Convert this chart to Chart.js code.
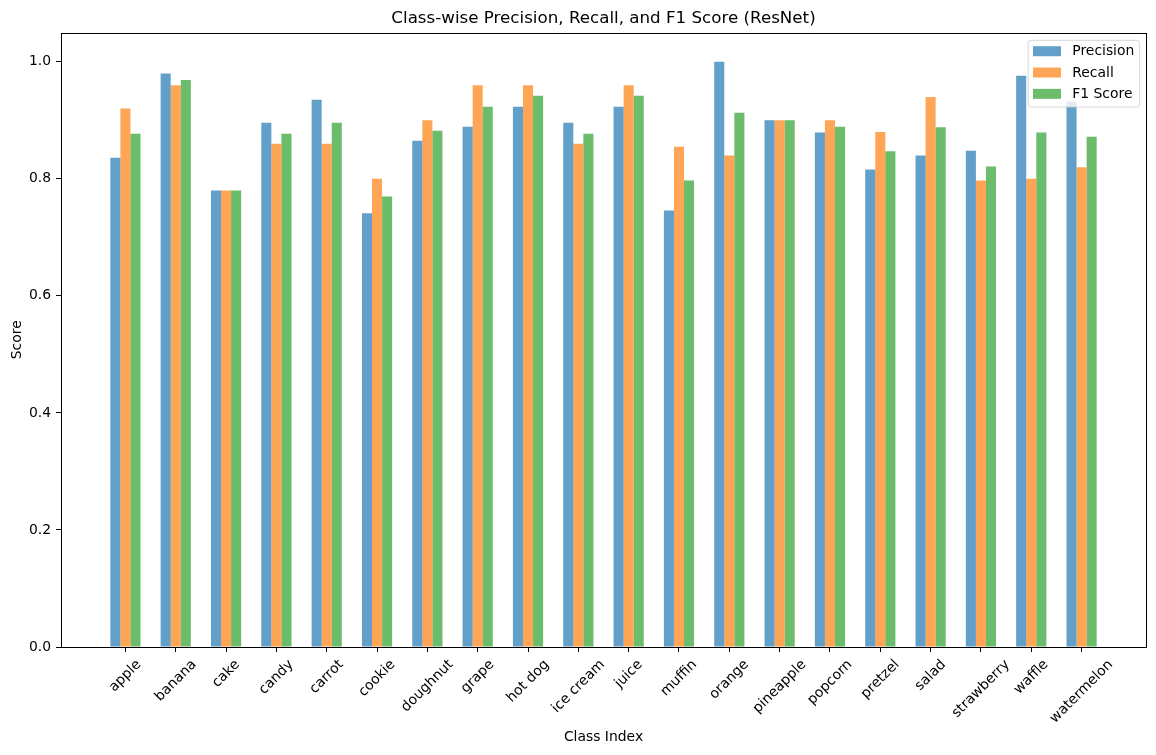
<!DOCTYPE html>
<html><head><meta charset="utf-8">
<script src="https://cdn.jsdelivr.net/npm/chart.js@4.4.1/dist/chart.umd.min.js"></script>
<style>html,body{margin:0;padding:0;background:#fff;}#wrap{width:1156px;height:755px;position:relative;}</style>
</head><body><div id="wrap"><canvas id="c" width="1156" height="755"></canvas></div>
<script>
const categories = ['apple','banana','cake','candy','carrot','cookie','doughnut','grape','hot dog','ice cream','juice','muffin','orange','pineapple','popcorn','pretzel','salad','strawberry','waffle','watermelon'];
const precision = [0.836,0.980,0.780,0.896,0.935,0.741,0.865,0.889,0.923,0.896,0.923,0.746,1.000,0.900,0.879,0.816,0.840,0.848,0.976,0.932];
const recall    = [0.920,0.960,0.780,0.860,0.860,0.800,0.900,0.960,0.960,0.860,0.960,0.855,0.840,0.900,0.900,0.880,0.940,0.797,0.800,0.820];
const f1score   = [0.877,0.969,0.780,0.877,0.896,0.770,0.882,0.923,0.942,0.877,0.942,0.797,0.913,0.900,0.889,0.847,0.888,0.821,0.879,0.872];
const seriesNames = ['Precision','Recall','F1 Score'];
const yTicks = [0,0.2,0.4,0.6,0.8,1.0];

const seriesValues = [precision, recall, f1score];
const colors = ['rgba(31,119,180,0.7)','rgba(255,127,14,0.7)','rgba(44,160,44,0.7)'];
const FONT = 'DejaVu Sans';
Chart.defaults.font.family = FONT;
Chart.defaults.color = '#000';

const datasets = seriesValues.map((vals,k)=>({
  label: seriesNames[k],
  data: vals.map((v,i)=>({x:i,y:v})),
  backgroundColor: colors[k],
  borderWidth: 0,
  categoryPercentage: 0.6,
  barPercentage: 1.0
}));

const decor = {
  id:'decor',
  afterDatasetsDraw(chart){
    const {ctx, chartArea:a} = chart;
    ctx.save();
    ctx.strokeStyle = '#000'; ctx.lineWidth = 1;
    const L = Math.round(a.left)+0.5, T = Math.round(a.top)+0.5, R = Math.round(a.right)+0.5, B = Math.round(a.bottom)+0.5;
    ctx.strokeRect(L, T, R-L, B-T);
    ctx.restore();
  },
  afterDraw(chart){
    const {ctx, chartArea:a} = chart;
    const xs = chart.scales.x;
    ctx.save();
    ctx.font = '13.9px "' + FONT + '"';
    ctx.fillStyle = '#000';
    const top = a.bottom + 9.7;
    const h = 13.9*1.17;
    categories.forEach((c,i)=>{
      const x = xs.getPixelForValue(i);
      const w = ctx.measureText(c).width;
      const half = (w+h)*Math.SQRT1_2/2;
      ctx.save();
      ctx.translate(x, top+half);
      ctx.rotate(-Math.PI/4);
      ctx.textAlign='center'; ctx.textBaseline='middle';
      ctx.fillText(c,0,0);
      ctx.restore();
    });
    ctx.restore();
    const lw = 111.5, lh = 66.7;
    const lx = a.right - 118.3, ly = a.top + 7.3;
    ctx.save();
    ctx.beginPath();
    ctx.roundRect(lx+0.5, ly+0.5, lw, lh, 3);
    ctx.fillStyle = 'rgba(255,255,255,0.8)';
    ctx.fill();
    ctx.strokeStyle = 'rgba(204,204,204,0.8)';
    ctx.lineWidth = 1;
    ctx.stroke();
    ctx.font = '13.9px "' + FONT + '"';
    ctx.textBaseline = 'middle';
    ctx.textAlign = 'left';
    const rows = [11.4, 32.7, 54.0];
    chart.data.datasets.forEach((d,k)=>{
      const cy = ly + rows[k];
      ctx.fillStyle = d.backgroundColor;
      ctx.fillRect(lx+5.3, cy-5, 28, 10);
      ctx.fillStyle = '#000';
      ctx.fillText(d.label, lx+44.6, cy+0.5);
    });
    ctx.restore();
  }
};

new Chart(document.getElementById('c'), {
  type:'bar',
  data:{ datasets },
  options:{
    responsive:false, animation:false, devicePixelRatio:1,
    layout:{padding:{left:0,right:10,top:0,bottom:0}},
    plugins:{
      legend:{display:false}, tooltip:{enabled:false},
      title:{display:true, fullSize:false, text:'Class-wise Precision, Recall, and F1 Score (ResNet)', color:'#000',
        font:{family:FONT, size:16.7, weight:'normal'}, padding:{top:9, bottom:3.5}}
    },
    scales:{
      x:{type:'linear', min:-1.28, max:20.28, offset:false,
        afterBuildTicks: s => { s.ticks = categories.map((c,i)=>({value:i})); },
        afterFit: s => { s.height = 108; },
        ticks:{display:false},
        grid:{offset:false, drawOnChartArea:false, drawTicks:true, tickLength:5, color:'#000', lineWidth:1},
        border:{display:false},
        title:{display:true, text:'Class Index', color:'#000', font:{family:FONT, size:13.9}, padding:{top:0,bottom:9}}
      },
      y:{min:0, max:1.05,
        afterBuildTicks: s => { s.ticks = yTicks.map(v=>({value:v})); },
        afterFit: s => { s.width = 61; },
        ticks:{color:'#000', font:{family:FONT, size:13.9}, padding:5, callback: v => Number(v).toFixed(1)},
        grid:{drawOnChartArea:false, drawTicks:true, tickLength:5, color:'#000', lineWidth:1},
        border:{display:false},
        title:{display:true, text:'Score', color:'#000', font:{family:FONT, size:13.9}, padding:{top:9,bottom:0}}
      }
    }
  },
  plugins:[decor]
});
</script></body></html>
